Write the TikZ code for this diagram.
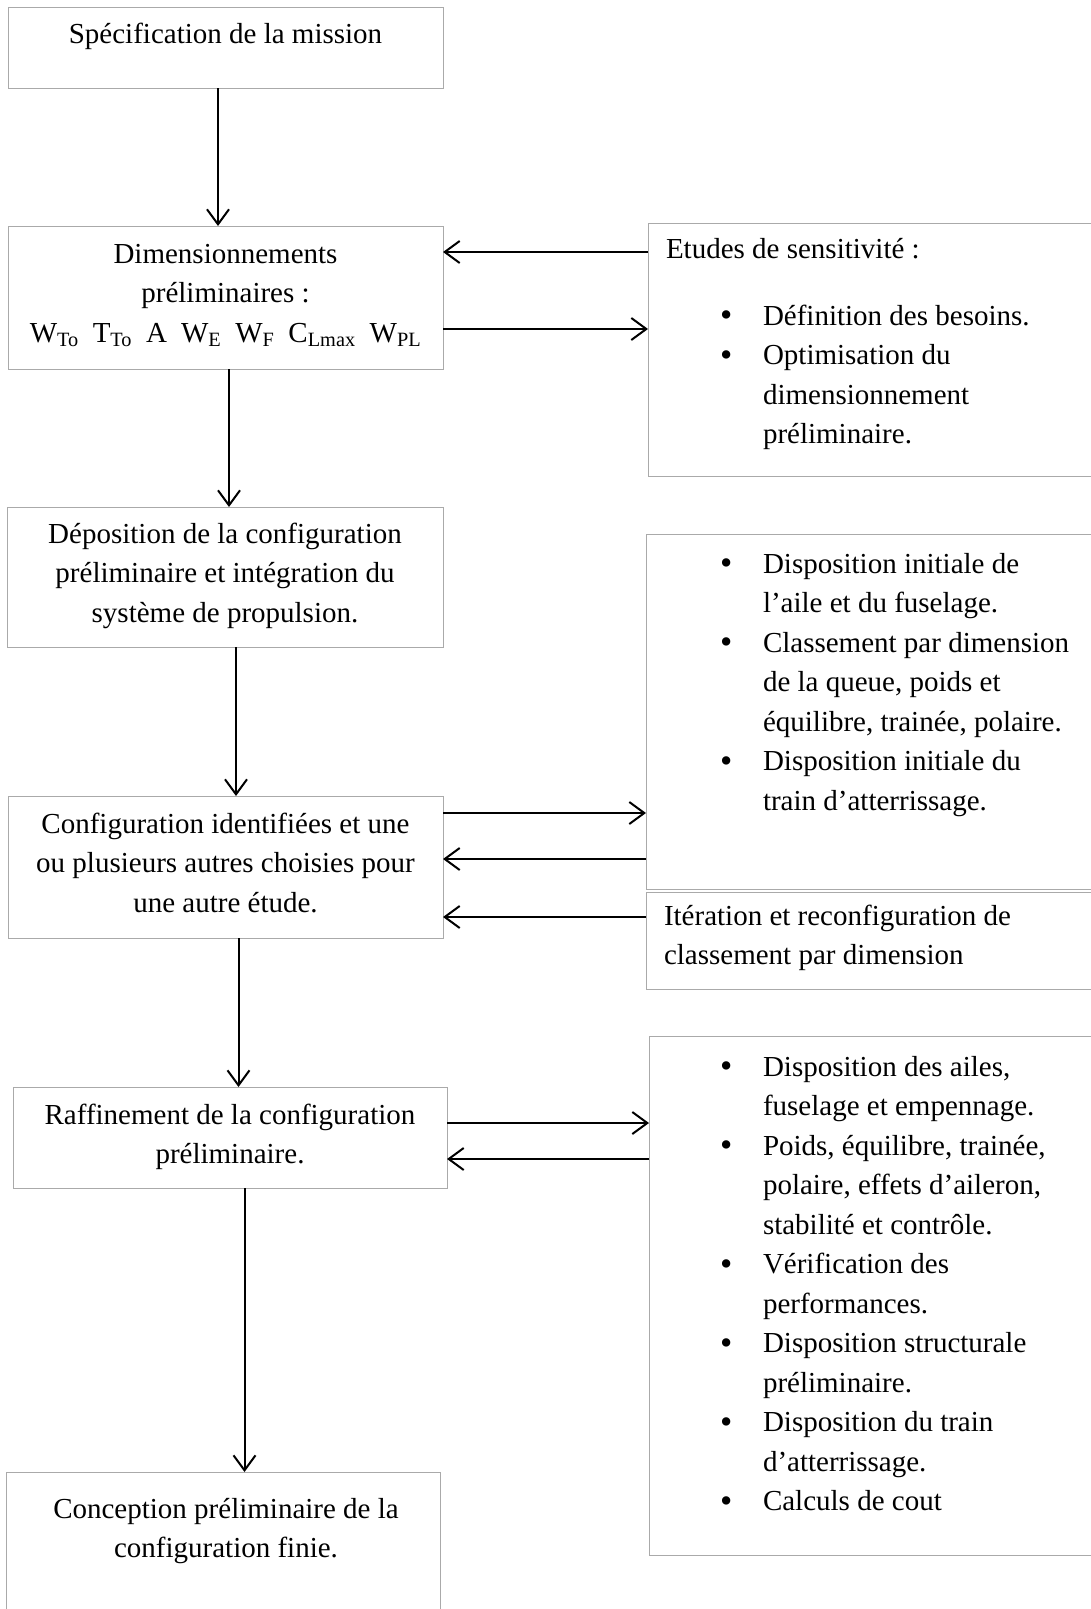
\documentclass[tikz,border=0pt]{standalone}
\usepackage{fontspec}
\setmainfont{Liberation Serif}
\usetikzlibrary{arrows.meta}
\definecolor{boxgray}{RGB}{170,170,170}
\newcommand{\lbul}{\makebox[43pt][l]{\raisebox{-1.5pt}{\fontsize{35}{35}\selectfont •}}}
\newcommand{\sep}{\hspace{14pt}}
\begin{document}
\begin{tikzpicture}[x=1pt,y=-1pt,
  box/.style={draw=boxgray, line width=1pt, anchor=north west, inner sep=0pt, outer sep=0pt},
  txt/.style={inner sep=0pt, outer sep=0pt, anchor=base, font=\fontsize{29}{39.5}\selectfont},
  ltxt/.style={txt, anchor=base west},
  arr/.style={line width=2pt, -{Straight Barb[length=15pt,width=22pt]}}]
\useasboundingbox[fill=white] (0,0) rectangle (1090,1609);

% left boxes
\node[box, minimum width=435pt, minimum height=81pt]  (b1) at (8,7) {};
\node[box, minimum width=435pt, minimum height=143pt] (b2) at (8,226) {};
\node[box, minimum width=436pt, minimum height=140pt] (b3) at (7,507) {};
\node[box, minimum width=435pt, minimum height=142pt] (b4) at (8,796) {};
\node[box, minimum width=434pt, minimum height=101pt] (b5) at (13,1087) {};
\node[box, minimum width=434pt, minimum height=150pt] (b6) at (6,1472) {};

% right boxes
\node[box, minimum width=450pt, minimum height=253pt] (r1) at (648,223) {};
\node[box, minimum width=450pt, minimum height=355pt] (r2) at (646,534) {};
\node[box, minimum width=450pt, minimum height=97pt]  (r3) at (646,892) {};
\node[box, minimum width=450pt, minimum height=519pt] (r4) at (649,1036) {};

% left texts
\node[txt] (t1) at (225.5,43) {Spécification de la mission};
\node[txt] (t2) at (225.5,263) {\begin{tabular}[t]{@{}c@{}}Dimensionnements\\ préliminaires :\\
  W\textsubscript{To}\sep T\textsubscript{To}\sep A\sep W\textsubscript{E}\sep W\textsubscript{F}\sep C\textsubscript{Lmax}\sep W\textsubscript{PL}\end{tabular}};
\node[txt] (t3) at (225,543) {\begin{tabular}[t]{@{}c@{}}Déposition de la configuration\\ préliminaire et intégration du\\ système de propulsion.\end{tabular}};
\node[txt] (t4) at (225.5,833) {\begin{tabular}[t]{@{}c@{}}Configuration identifiées et une\\ ou plusieurs autres choisies pour\\ une autre étude.\end{tabular}};
\node[txt] (t5) at (230,1124) {\begin{tabular}[t]{@{}c@{}}Raffinement de la configuration\\ préliminaire.\end{tabular}};
\node[txt] (t6) at (226,1518) {\begin{tabular}[t]{@{}c@{}}Conception préliminaire de la\\ configuration finie.\end{tabular}};

% right texts
\node[ltxt] (s1) at (666,258) {Etudes de sensitivité :};
\node[ltxt] (s2) at (720,325) {\begin{tabular}[t]{@{}l@{}l@{}}\lbul & Définition des besoins.\\ \lbul & Optimisation du\\ & dimensionnement\\ & préliminaire.\end{tabular}};
\node[ltxt] (s3) at (720,573) {\begin{tabular}[t]{@{}l@{}l@{}}\lbul & Disposition initiale de\\ & l’aile et du fuselage.\\ \lbul & Classement par dimension\\ & de la queue, poids et\\ & équilibre, trainée, polaire.\\ \lbul & Disposition initiale du\\ & train d’atterrissage.\end{tabular}};
\node[ltxt] (s4) at (664,925) {\begin{tabular}[t]{@{}l@{}}Itération et reconfiguration de\\ classement par dimension\end{tabular}};
\node[ltxt] (s5) at (720,1076) {\begin{tabular}[t]{@{}l@{}l@{}}\lbul & Disposition des ailes,\\ & fuselage et empennage.\\ \lbul & Poids, équilibre, trainée,\\ & polaire, effets d’aileron,\\ & stabilité et contrôle.\\ \lbul & Vérification des\\ & performances.\\ \lbul & Disposition structurale\\ & préliminaire.\\ \lbul & Disposition du train\\ & d’atterrissage.\\ \lbul & Calculs de cout\end{tabular}};

% vertical arrows
\coordinate (xa1) at (218,0);
\coordinate (xa2) at (229,0);
\coordinate (xa3) at (236,0);
\coordinate (xa4) at (238.5,0);
\coordinate (xa5) at (244.5,0);
\draw[arr] (b1.south -| xa1) -- (b2.north -| xa1);
\draw[arr] (b2.south -| xa2) -- (b3.north -| xa2);
\draw[arr] (b3.south -| xa3) -- (b4.north -| xa3);
\draw[arr] (b4.south -| xa4) -- (b5.north -| xa4);
\draw[arr] (b5.south -| xa5) -- (b6.north -| xa5);

% horizontal arrows
\coordinate (y1) at (0,252);
\coordinate (y2) at (0,329);
\coordinate (y3) at (0,813);
\coordinate (y4) at (0,859);
\coordinate (y5) at (0,917);
\coordinate (y6) at (0,1123);
\coordinate (y7) at (0,1159);
\draw[arr] (r1.west |- y1) -- (b2.east |- y1);
\draw[arr] (b2.east |- y2) -- (r1.west |- y2);
\draw[arr] (b4.east |- y3) -- (r2.west |- y3);
\draw[arr] (r2.west |- y4) -- (b4.east |- y4);
\draw[arr] (r3.west |- y5) -- (b4.east |- y5);
\draw[arr] (b5.east |- y6) -- (r4.west |- y6);
\draw[arr] (r4.west |- y7) -- (b5.east |- y7);
\end{tikzpicture}
\end{document}
